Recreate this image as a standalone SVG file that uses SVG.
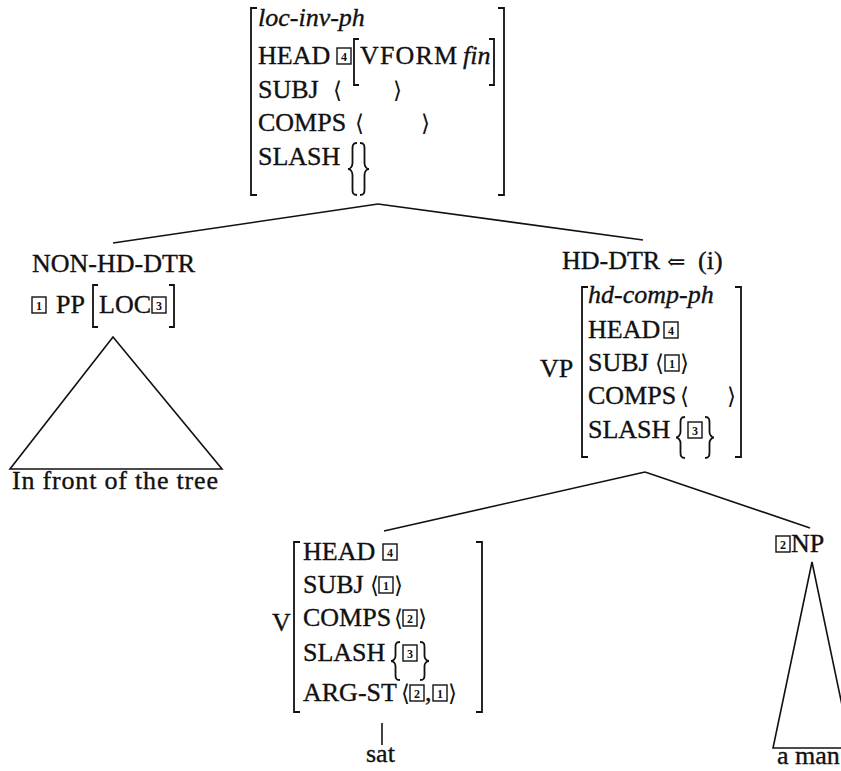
<svg xmlns="http://www.w3.org/2000/svg" width="841" height="771" viewBox="0 0 841 771">
<style>
text { font-family: "Liberation Serif", "DejaVu Serif", serif; font-size: 26px; fill: #111; stroke: #111; stroke-width: 0.35; }
.it { font-style: italic; }
.ang { font-family: "DejaVu Serif", serif; font-size: 23px; stroke-width: 0; }
.dg { font-size: 12px; font-weight: bold; text-anchor: middle; stroke-width: 0; }
.br { fill: none; stroke: #111; stroke-width: 1.8; }
.ln { fill: none; stroke: #111; stroke-width: 1.6; }
.bx { fill: #fff; stroke: #111; stroke-width: 1.4; }
</style>
<rect width="841" height="771" fill="#fff"/>

<g id="connectors">
  <path class="ln" d="M378,204 L113,243"/>
  <path class="ln" d="M378,204 L643,240"/>
  <path class="ln" d="M645,472 L384,531"/>
  <path class="ln" d="M645,472 L810,528"/>
  <path class="ln" d="M382,723 L382,745"/>
</g>

<g id="n-top">
  <path class="br" d="M257,8 H251 V195 H257"/>
  <path class="br" d="M498,8 H504 V195 H498"/>
  <text class="it" x="258" y="26">loc-inv-ph</text>
  <text x="258" y="64">HEAD</text>
  <rect class="bx" x="337" y="48" width="14" height="16"/>
  <text class="dg" x="344" y="60.5">4</text>
  <path class="br" d="M359,39 H354 V85 H359"/>
  <text x="360" y="64" textLength="97">VFORM</text>
  <text class="it" x="463" y="64">fin</text>
  <path class="br" d="M489,39 H494 V85 H489"/>
  <text x="258" y="98">SUBJ</text>
  <text class="ang" x="333" y="98">⟨</text>
  <text class="ang" x="393" y="98">⟩</text>
  <text x="258" y="131">COMPS</text>
  <text class="ang" x="355" y="131">⟨</text>
  <text class="ang" x="421" y="131">⟩</text>
  <text x="258" y="165">SLASH</text>
  <path class="br" d="M357,143 C352,143 352.5,146 352.5,151 L352.5,163 C352.5,167 350,169 348,169 C350,169 352.5,171 352.5,175 L352.5,187 C352.5,192 352,195 357,195"/>
  <path class="br" d="M360,143 C365,143 364.5,146 364.5,151 L364.5,163 C364.5,167 367,169 369,169 C367,169 364.5,171 364.5,175 L364.5,187 C364.5,192 365,195 360,195"/>
</g>

<g id="n-nonhd">
  <text x="32" y="272">NON-HD-DTR</text>
  <rect class="bx" x="32" y="297" width="14" height="16"/>
  <text class="dg" x="39" y="309.5">1</text>
  <text x="56" y="313">PP</text>
  <path class="br" d="M98,285 H93 V327 H98"/>
  <text x="99" y="313">LOC</text>
  <rect class="bx" x="152" y="297" width="14" height="16"/>
  <text class="dg" x="159" y="309.5">3</text>
  <path class="br" d="M169,285 H174 V327 H169"/>
  <path class="ln" d="M113,337 L10,469 L222,469 Z"/>
  <text x="12" y="489" textLength="206">In front of the tree</text>
</g>

<g id="n-hd">
  <text x="562" y="269">HD-DTR</text>
  <text x="667" y="269" style="font-family:'DejaVu Serif',serif;font-size:22px;stroke-width:0">⇐</text>
  <text x="698" y="269">(i)</text>
  <text x="540" y="377">VP</text>
  <path class="br" d="M588,287 H582 V457 H588"/>
  <path class="br" d="M735,287 H741 V457 H735"/>
  <text class="it" x="588" y="303">hd-comp-ph</text>
  <text x="588" y="338">HEAD</text>
  <rect class="bx" x="664" y="322" width="14" height="16"/>
  <text class="dg" x="671" y="334.5">4</text>
  <text x="588" y="371">SUBJ</text>
  <text class="ang" x="655" y="371">⟨</text>
  <rect class="bx" x="665" y="355" width="14" height="16"/>
  <text class="dg" x="672" y="367.5">1</text>
  <text class="ang" x="680" y="371">⟩</text>
  <text x="588" y="404">COMPS</text>
  <text class="ang" x="680" y="404">⟨</text>
  <text class="ang" x="727" y="404">⟩</text>
  <text x="588" y="438">SLASH</text>
  <path class="br" d="M685,417 C680,417 680.5,420 680.5,425 L680.5,432 C680.5,435 678,437.5 676,437.5 C678,437.5 680.5,440 680.5,443 L680.5,450 C680.5,455 680,458 685,458"/>
  <rect class="bx" x="688" y="422" width="14" height="16"/>
  <text class="dg" x="695" y="434.5">3</text>
  <path class="br" d="M705,417 C710,417 709.5,420 709.5,425 L709.5,432 C709.5,435 712,437.5 714,437.5 C712,437.5 709.5,440 709.5,443 L709.5,450 C709.5,455 710,458 705,458"/>
</g>

<g id="n-v">
  <text x="272" y="631">V</text>
  <path class="br" d="M300,542 H294 V712 H300"/>
  <path class="br" d="M476,542 H482 V712 H476"/>
  <text x="303" y="560">HEAD</text>
  <rect class="bx" x="383" y="544" width="14" height="16"/>
  <text class="dg" x="390" y="556.5">4</text>
  <text x="303" y="593">SUBJ</text>
  <text class="ang" x="370" y="593">⟨</text>
  <rect class="bx" x="379" y="577" width="14" height="16"/>
  <text class="dg" x="386" y="589.5">1</text>
  <text class="ang" x="394" y="593">⟩</text>
  <text x="303" y="626">COMPS</text>
  <text class="ang" x="394" y="626">⟨</text>
  <rect class="bx" x="403" y="610" width="14" height="16"/>
  <text class="dg" x="410" y="622.5">2</text>
  <text class="ang" x="418" y="626">⟩</text>
  <text x="303" y="661">SLASH</text>
  <path class="br" d="M400,642 C395,642 395.5,645 395.5,649 L395.5,656 C395.5,659 393,661 391,661 C393,661 395.5,663 395.5,666 L395.5,673 C395.5,677 395,680 400,680"/>
  <rect class="bx" x="403" y="645" width="14" height="16"/>
  <text class="dg" x="410" y="657.5">3</text>
  <path class="br" d="M420,642 C425,642 424.5,645 424.5,649 L424.5,656 C424.5,659 427,661 429,661 C427,661 424.5,663 424.5,666 L424.5,673 C424.5,677 425,680 420,680"/>
  <text x="303" y="701">ARG-ST</text>
  <text class="ang" x="401" y="701">⟨</text>
  <rect class="bx" x="410" y="685" width="14" height="16"/>
  <text class="dg" x="417" y="697.5">2</text>
  <text x="425" y="701">,</text>
  <rect class="bx" x="433" y="685" width="14" height="16"/>
  <text class="dg" x="440" y="697.5">1</text>
  <text class="ang" x="448" y="701">⟩</text>
  <text x="366" y="762">sat</text>
</g>

<g id="n-np">
  <rect class="bx" x="776" y="536" width="14" height="16"/>
  <text class="dg" x="783" y="548.5">2</text>
  <text x="791" y="552">NP</text>
  <path class="ln" d="M812,562 L773,748 L851,748 Z"/>
  <text x="777" y="764">a man</text>
</g>
</svg>
